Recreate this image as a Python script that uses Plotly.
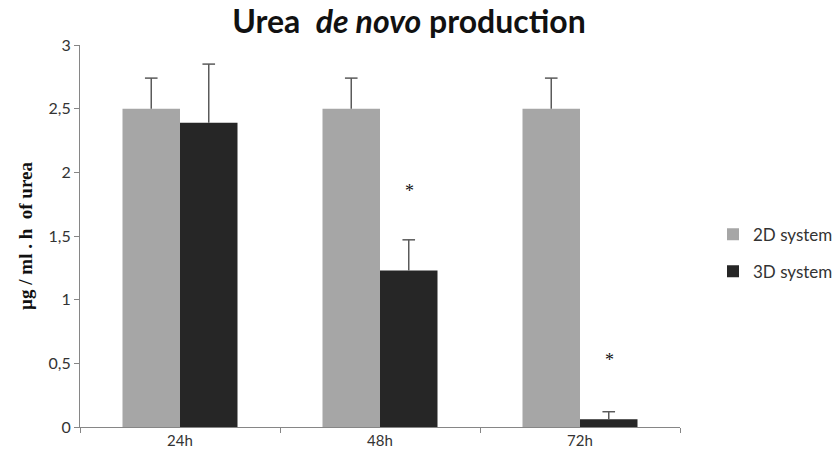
import plotly.graph_objects as go

# Urea de novo production per culture system and time point
timepoints = ["24h", "48h", "72h"]
urea_2d = [2.5, 2.5, 2.5]
urea_3d = [2.39, 1.23, 0.06]
err_2d = [0.24, 0.24, 0.24]
err_3d = [0.46, 0.24, 0.06]
# significance markers placed above the 3D bars
star_cats = ["48h", "72h"]
star_y = [1.85, 0.53]

grey_2d = "#A6A6A6"
dark_3d = "#262626"
axis_col = "#868686"
err_col = "#5A5A5A"
font_fam = "Lato, Open Sans, sans-serif"

fig = go.Figure()
series = [("2D system", urea_2d, err_2d, grey_2d, "g2d"),
          ("3D system", urea_3d, err_3d, dark_3d, "g3d")]
for name, vals, errs, col, grp in series:
    # bar with an upward-only whisker (no crossbars; the top cap is added below)
    fig.add_trace(go.Bar(
        name=name, x=timepoints, y=vals, marker_color=col, marker_line_width=0,
        offsetgroup=grp, legendgroup=grp,
        error_y=dict(type="data", array=errs, arrayminus=[0] * len(errs), symmetric=False,
                     color=err_col, thickness=1.5, width=0),
    ))
for name, vals, errs, col, grp in series:
    # cap at the top of each whisker
    fig.add_trace(go.Scatter(
        x=timepoints, y=[v + e for v, e in zip(vals, errs)], mode="markers",
        offsetgroup=grp, legendgroup=grp, showlegend=False, hoverinfo="skip",
        marker=dict(symbol="line-ew", size=9, line=dict(width=1.5, color=err_col)),
    ))

for c, yv in zip(star_cats, star_y):
    fig.add_annotation(x=c, y=yv, xref="x", yref="y", text="*", showarrow=False,
                       xshift=29, font=dict(family="Liberation Serif", size=18, color="#111"))

fig.update_layout(
    width=838, height=462,
    margin=dict(l=80, r=158, t=45, b=35, autoexpand=False),
    paper_bgcolor="white", plot_bgcolor="white",
    barmode="group", bargap=0.425, bargroupgap=0,
    scattermode="group", scattergap=0.425,
    title=dict(text="<b>Urea\u00a0 <i>de novo</i> production</b>", x=0.488, xanchor="center",
               yref="container", y=0.952, yanchor="middle",
               font=dict(family=font_fam, size=32, color="#111")),
    font=dict(family=font_fam, size=14, color="#333"),
    legend=dict(x=1.055, y=0.455, xanchor="left", yanchor="middle",
                traceorder="grouped", tracegroupgap=12, itemwidth=30,
                font=dict(family=font_fam, size=17, color="#333")),
    showlegend=True,
    separators=",.",
)
fig.update_xaxes(
    showline=True, linecolor=axis_col, linewidth=1,
    ticks="outside", tickson="boundaries", ticklen=5, tickcolor=axis_col,
    tickfont=dict(family=font_fam, size=15, color="#333"),
)
fig.update_yaxes(
    range=[0, 3], dtick=0.5, tickformat=".1~f",
    showline=True, linecolor=axis_col, linewidth=1, showgrid=False, zeroline=False,
    ticks="outside", ticklen=5, tickcolor=axis_col,
    tickfont=dict(family=font_fam, size=16, color="#333"),
    title=dict(text="<b>µg / ml . h  of urea</b>", standoff=10,
               font=dict(family="Liberation Serif", size=19, color="#111")),
)

fig.write_html("out.html")
